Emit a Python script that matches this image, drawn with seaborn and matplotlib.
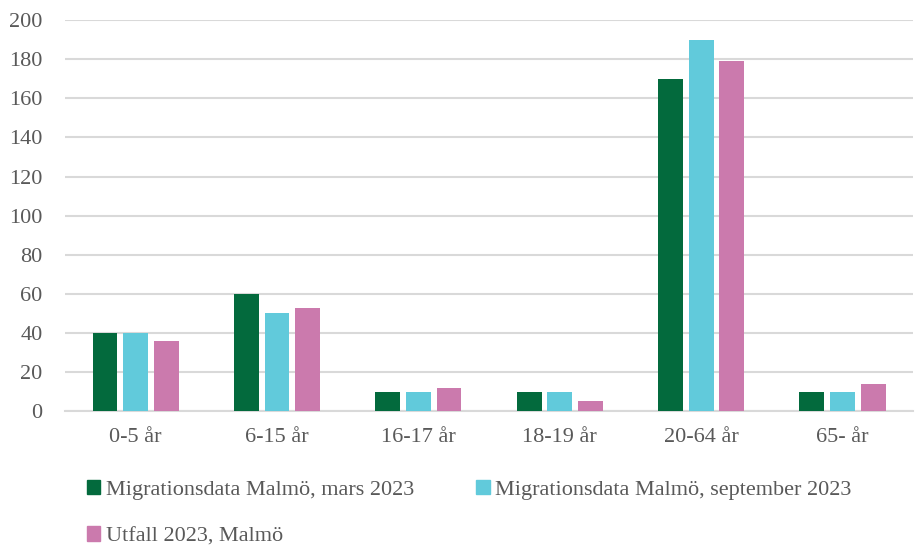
import pandas as pd
import seaborn as sns
import matplotlib.pyplot as plt
from matplotlib.patches import Patch

categories = ["0-5 år", "6-15 år", "16-17 år", "18-19 år", "20-64 år", "65- år"]
series = ["Migrationsdata Malmö, mars 2023",
          "Migrationsdata Malmö, september 2023",
          "Utfall 2023, Malmö"]
mars = [40, 60, 10, 10, 170, 10]
september = [40, 50, 10, 10, 190, 10]
utfall = [36, 53, 12, 5, 179, 14]
colors = ["#036a3d", "#61cadb", "#cb7aad"]

df = pd.DataFrame({
    "kat": categories * 3,
    "serie": [series[0]] * 6 + [series[1]] * 6 + [series[2]] * 6,
    "antal": mars + september + utfall,
})

sns.set_style("white")
plt.rcParams["font.family"] = ["Liberation Serif", "DejaVu Serif"]
txt = "#595959"
fs = 16

fig = plt.figure(figsize=(9.15, 5.46), dpi=100)
ax = fig.add_axes([0.071, 0.247, 0.927, 0.716])
sns.barplot(data=df, x="kat", y="antal", hue="serie", palette=colors,
            saturation=1, width=0.65, gap=0.19, ax=ax, legend=False,
            linewidth=0, zorder=3)

ax.set_ylim(0, 200)
ax.set_yticks(range(0, 201, 20))
ax.set_xlim(-0.5, 5.5)
ax.grid(axis="y", color="#d9d9d9", linewidth=1.5, zorder=0)
ax.set_axisbelow(True)
for s in ["left", "right", "top"]:
    ax.spines[s].set_visible(False)
ax.spines["bottom"].set_color("#d9d9d9")
ax.spines["bottom"].set_linewidth(1.5)
ax.tick_params(axis="both", length=0, labelsize=fs, labelcolor=txt)
ax.tick_params(axis="y", pad=16)
ax.tick_params(axis="x", pad=12)
ax.set_xlabel("")
ax.set_ylabel("")

handles = [Patch(color=c) for c in colors]
order = [0, 2, 1]
fig.legend([handles[i] for i in order], [series[i] for i in order],
           ncol=2, loc="upper left", bbox_to_anchor=(0.095, 0.121),
           frameon=False, fontsize=fs, labelcolor=txt,
           handlelength=0.6, handleheight=0.6, handletextpad=0.25,
           columnspacing=2.8, labelspacing=1.2, borderaxespad=0, borderpad=0)

fig.savefig("out.png", dpi=100)
